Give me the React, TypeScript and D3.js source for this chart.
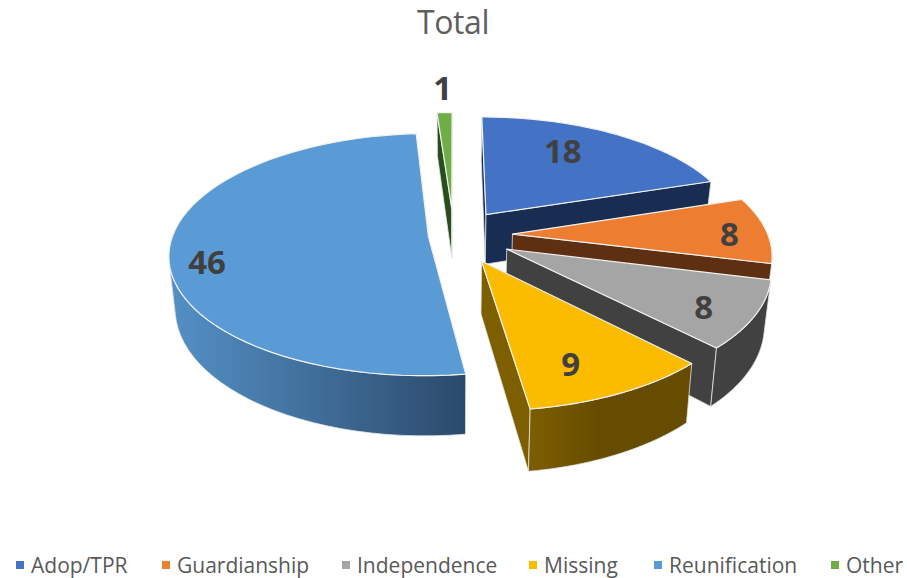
import React from "react";
import * as d3 from "d3";

const categories = ["Adop/TPR", "Guardianship", "Independence", "Missing", "Reunification", "Other"];
const values = [18, 8, 8, 9, 46, 1];
const topColors = ["#4472C4", "#ED7D31", "#A5A5A5", "#FBBC00", "#5B9BD5", "#70AD47"];
const wallFills = ["#192C52", "#5F2F12", "#414141", "url(#wall-missing)", "url(#wall-reunification)", "#274E1B"];
const explosions = [0.22, 0.23, 0.235, 0.24, 0.1, 0.23];
const labelAngles = [29.4, 90, 122.4, 158.3, 255.8, 358];
const labelRadii = [0.71, 0.85, 0.82, 0.777, 0.86, 1.3];
const legendSwatchX = [16, 162, 342, 529, 654, 831];
const drawOrder = [4, 5, 0, 1, 2, 3];

const WIDTH = 907;
const HEIGHT = 578;
const FONT = "'Open Sans', 'Noto Sans', sans-serif";

const CX = 453.8, CY = 235, W = 255.5, H = 118, K = 0.151, DEPTH = 51, SHRINK = 0.022;

type Pt = [number, number];
// World plane (u to the right, v away from the viewer) to the screen, z=1 is the bottom plane.
function project(u: number, v: number, z = 0): Pt {
  const den = 1 + K * v;
  return [CX + (W * u / den) * (1 - SHRINK * z), CY - (H * v) / den + (DEPTH * z) / den];
}

const pieGen = d3.pie<number>().sort(null).startAngle(0).endAngle(2 * Math.PI);
const arcs = pieGen(values);
const line = d3.line<Pt>().x((d) => d[0]).y((d) => d[1]);

function shoelace(p: Pt[]) {
  let s = 0;
  p.forEach((a, i) => {
    const b = p[(i + 1) % p.length];
    s += a[0] * b[1] - b[0] * a[1];
  });
  return s;
}

function buildSlice(i: number) {
  const a = arcs[i];
  const mid = (a.startAngle + a.endAngle) / 2;
  const ax = explosions[i] * Math.sin(mid);
  const ay = explosions[i] * Math.cos(mid);
  const at = (ang: number, r: number): [number, number] => [ax + r * Math.sin(ang), ay + r * Math.cos(ang)];
  const angles = d3.range(0, 61).map((k) => a.startAngle + ((a.endAngle - a.startAngle) * k) / 60);
  const rim = angles.map((ang) => at(ang, 1));
  const apex: [number, number] = [ax, ay];
  const top = [apex, ...rim].map((p) => project(p[0], p[1], 0));
  const quad = (p: [number, number], q: [number, number]): Pt[] => [
    project(p[0], p[1]),
    project(q[0], q[1]),
    project(q[0], q[1], 1),
    project(p[0], p[1], 1),
  ];
  const walls: Pt[][] = [];
  const startWall = quad(apex, rim[0]);
  if (shoelace(startWall) < 0) walls.push(startWall);
  const endWall = quad(rim[rim.length - 1], apex);
  if (shoelace(endWall) < 0) walls.push(endWall);
  const visible: number[] = [];
  for (let k = 0; k < rim.length - 1; k++) {
    if (shoelace(quad(rim[k], rim[k + 1])) < 0) visible.push(k);
  }
  if (visible.length) {
    const idx = [...visible, visible[visible.length - 1] + 1];
    const upper = idx.map((k) => project(rim[k][0], rim[k][1]));
    const lower = idx.map((k) => project(rim[k][0], rim[k][1], 1)).reverse();
    walls.push([...upper, ...lower]);
  }
  const la = (labelAngles[i] * Math.PI) / 180;
  const lp = at(la, labelRadii[i]);
  return { top, walls, label: project(lp[0], lp[1]) };
}

const swatchX = d3.scaleOrdinal<string, number>().domain(categories).range(legendSwatchX);

export default function App() {
  return (
    <svg
      width={WIDTH}
      height={HEIGHT}
      viewBox={`0 0 ${WIDTH} ${HEIGHT}`}
      style={{ position: "absolute", left: 0, top: 0, background: "#fff" }}
    >
      <defs>
        <linearGradient id="wall-reunification" gradientUnits="userSpaceOnUse" x1={170} x2={465} y1={0} y2={0}>
          <stop offset="0" stopColor="#5490C6" />
          <stop offset="1" stopColor="#2B4A6B" />
        </linearGradient>
        <linearGradient id="wall-missing" gradientUnits="userSpaceOnUse" x1={525} x2={600} y1={0} y2={0}>
          <stop offset="0" stopColor="#7E5F00" />
          <stop offset="1" stopColor="#664C00" />
        </linearGradient>
      </defs>
      <text x={453} y={34} textAnchor="middle" fontFamily={FONT} fontSize={32} letterSpacing={-0.4} fill="#5F5F5F">
        Total
      </text>
      {drawOrder.map((i) => {
        const s = buildSlice(i);
        return (
          <g key={categories[i]}>
            {s.walls.map((w, j) => (
              <path
                key={j}
                d={line(w) + "Z"}
                fill={wallFills[i]}
                stroke="#E4E4E4"
                strokeWidth={0.8}
                strokeLinejoin="round"
              />
            ))}
            <path
              d={line(s.top) + "Z"}
              fill={topColors[i]}
              stroke="#F0F0F0"
              strokeWidth={1.2}
              strokeLinejoin="round"
            />
          </g>
        );
      })}
      {drawOrder.map((i) => {
        const s = buildSlice(i);
        return (
          <text
            key={categories[i]}
            x={s.label[0]}
            y={s.label[1]}
            dy="0.36em"
            textAnchor="middle"
            fontFamily={FONT}
            fontWeight={700}
            fontSize={33}
            fill="#404040"
          >
            {values[i]}
          </text>
        );
      })}
      {categories.map((c, i) => (
        <g key={c}>
          <rect x={swatchX(c)} y={561} width={8} height={8} fill={topColors[i]} />
          <text
            x={swatchX(c) + 15}
            y={565}
            dy="0.36em"
            fontFamily={FONT}
            fontSize={21}
            fill="#595959"
          >
            {c}
          </text>
        </g>
      ))}
    </svg>
  );
}
